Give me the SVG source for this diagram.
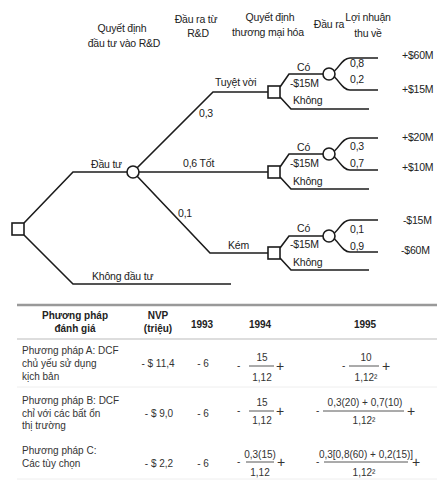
<svg xmlns="http://www.w3.org/2000/svg" width="443" height="481" viewBox="0 0 443 481">
<style>
.t{font-family:"Liberation Sans",Arial,sans-serif;font-size:10.5px;letter-spacing:-0.2px;fill:#222}
.h{font-family:"Liberation Sans",Arial,sans-serif;font-size:10.5px;letter-spacing:-0.2px;fill:#222;text-anchor:middle}
.tb{font-family:"Liberation Sans",Arial,sans-serif;font-size:10px;fill:#333}
.tm{font-family:"Liberation Sans",Arial,sans-serif;font-size:10px;fill:#333;text-anchor:middle}
.th{font-family:"Liberation Sans",Arial,sans-serif;font-size:10px;font-weight:bold;fill:#222;text-anchor:middle}
.pl{font-family:"Liberation Sans",Arial,sans-serif;font-size:14px;fill:#333}
.ln{fill:none;stroke:#1c1c1c;stroke-width:1.6}
.dec{fill:#fff;stroke:#1c1c1c;stroke-width:1.6}
.ch{fill:#fff;stroke:#1c1c1c;stroke-width:1.6}
.fr{stroke:#444;stroke-width:0.9}
</style>
<rect width="443" height="481" fill="#fff"/>

<g id="headers">
<text class="h" x="122" y="32">Quyết định</text>
<text class="h" x="124" y="47">đầu tư vào R&amp;D</text>
<text class="h" x="196" y="23">Đầu ra từ</text>
<text class="h" x="198" y="37">R&amp;D</text>
<text class="h" x="270" y="21">Quyết định</text>
<text class="h" x="268" y="36">thương mại hóa</text>
<text class="h" x="329" y="28">Đầu ra</text>
<text class="h" x="368" y="21">Lợi nhuận</text>
<text class="h" x="368" y="37">thu về</text>
</g>

<g id="connectors">
<path class="ln" d="M24,223 L73,172 L127,172"/>
<path class="ln" d="M24,235 L73,284 L231,284"/>
<path class="ln" d="M137.2,167.8 L213,92 L268,92"/>
<path class="ln" d="M139,172 L268,172"/>
<path class="ln" d="M137.2,176.2 L210,253 L268,253"/>
<path class="ln" d="M280,87 L289,74 L323,74"/>
<path class="ln" d="M280,97 L291,109 L369,109"/>
<path class="ln" d="M334.5,71 C340,66 343,58 350,58 L378,58"/>
<path class="ln" d="M334.5,77 C340,82 343,90 350,90 L378,90"/>
<path class="ln" d="M280,167 L289,154 L323,154"/>
<path class="ln" d="M280,177 L291,189 L369,189"/>
<path class="ln" d="M334.5,151 C340,146 343,138 350,138 L378,138"/>
<path class="ln" d="M334.5,157 C340,162 343,170 350,170 L378,170"/>
<path class="ln" d="M280,248 L289,236 L323,236"/>
<path class="ln" d="M280,258 L291,270 L369,270"/>
<path class="ln" d="M334.5,233 C340,228 343,220 350,220 L378,220"/>
<path class="ln" d="M334.5,239 C340,244 343,252 350,252 L378,252"/>
</g>

<g id="root-decision"><rect class="dec" x="12" y="223" width="12" height="12"/></g>
<g id="rd-chance"><circle class="ch" cx="133" cy="172" r="6"/></g>
<g id="dec-excellent"><rect class="dec" x="268" y="86" width="12" height="12"/></g>
<g id="dec-good"><rect class="dec" x="268" y="166" width="12" height="12"/></g>
<g id="dec-poor"><rect class="dec" x="268" y="247" width="12" height="12"/></g>
<g id="ch-excellent"><circle class="ch" cx="329" cy="74" r="6"/></g>
<g id="ch-good"><circle class="ch" cx="329" cy="154" r="6"/></g>
<g id="ch-poor"><circle class="ch" cx="329" cy="236" r="6"/></g>

<g id="tree-labels">
<text class="t" x="91" y="168">Đầu tư</text>
<text class="t" x="92" y="280">Không đầu tư</text>
<text class="t" x="199" y="117">0,3</text>
<text class="t" x="183" y="167">0,6 Tốt</text>
<text class="t" x="178" y="217">0,1</text>
<text class="t" x="215" y="86">Tuyệt vời</text>
<text class="t" x="228" y="249">Kém</text>

<text class="t" x="297" y="71">Có</text>
<text class="t" x="290" y="87">-$15M</text>
<text class="t" x="293" y="104">Không</text>
<text class="t" x="297" y="151">Có</text>
<text class="t" x="290" y="167">-$15M</text>
<text class="t" x="293" y="185">Không</text>
<text class="t" x="297" y="232">Có</text>
<text class="t" x="290" y="248">-$15M</text>
<text class="t" x="293" y="266">Không</text>

<text class="t" x="350" y="67">0,8</text>
<text class="t" x="350" y="83">0,2</text>
<text class="t" x="350" y="150">0,3</text>
<text class="t" x="350" y="167">0,7</text>
<text class="t" x="350" y="233">0,1</text>
<text class="t" x="350" y="250">0,9</text>

<text class="t" x="402" y="59">+$60M</text>
<text class="t" x="402" y="93">+$15M</text>
<text class="t" x="402" y="141">+$20M</text>
<text class="t" x="402" y="171">+$10M</text>
<text class="t" x="403" y="224">-$15M</text>
<text class="t" x="401" y="254">-$60M</text>
</g>

<g id="table">
<line x1="17" y1="305" x2="437" y2="305" stroke="#999" stroke-width="2.5"/>
<line x1="17" y1="339" x2="437" y2="339" stroke="#bbb" stroke-width="1"/>
<line x1="17" y1="387" x2="437" y2="387" stroke="#eee" stroke-width="1"/>
<line x1="17" y1="479" x2="437" y2="479" stroke="#eee" stroke-width="1"/>

<text class="th" x="75" y="319" font-size="10.5">Phương pháp</text>
<text class="th" x="75" y="332" font-size="10.5">đánh giá</text>
<text class="th" x="158" y="319">NVP</text>
<text class="th" x="158" y="332">(triệu)</text>
<text class="th" x="202" y="328">1993</text>
<text class="th" x="260" y="328">1994</text>
<text class="th" x="365" y="328">1995</text>

<text class="tb" x="22" y="354">Phương pháp A: DCF</text>
<text class="tb" x="22" y="367">chủ yếu sử dụng</text>
<text class="tb" x="22" y="380">kịch bản</text>
<text class="tm" x="158" y="367">- $ 11,4</text>
<text class="tm" x="203" y="367">- 6</text>
<text class="tb" x="237" y="369">-</text>
<text class="tm" x="262" y="361">15</text>
<line class="fr" x1="249" y1="366" x2="274" y2="366"/>
<text class="tm" x="262" y="381">1,12</text>
<text class="pl" x="276" y="371">+</text>
<text class="tb" x="342" y="369">-</text>
<text class="tm" x="366" y="361">10</text>
<line class="fr" x1="349" y1="366" x2="379" y2="366"/>
<text class="tm" x="366" y="381">1,12²</text>
<text class="pl" x="382" y="371">+</text>

<text class="tb" x="22" y="404">Phương pháp B: DCF</text>
<text class="tb" x="22" y="417">chỉ với các bất ổn</text>
<text class="tb" x="22" y="429">thị trường</text>
<text class="tm" x="159" y="417">- $ 9,0</text>
<text class="tm" x="203" y="417">- 6</text>
<text class="tb" x="237" y="414">-</text>
<text class="tm" x="262" y="406">15</text>
<line class="fr" x1="249" y1="411" x2="274" y2="411"/>
<text class="tm" x="262" y="424">1,12</text>
<text class="pl" x="276" y="416">+</text>
<text class="tb" x="316" y="414">-</text>
<text class="tm" x="365" y="406">0,3(20) + 0,7(10)</text>
<line class="fr" x1="323" y1="411" x2="404" y2="411"/>
<text class="tm" x="364" y="424">1,12²</text>
<text class="pl" x="407" y="416">+</text>

<text class="tb" x="22" y="454">Phương pháp C:</text>
<text class="tb" x="22" y="467">Các tùy chọn</text>
<text class="tm" x="159" y="467">- $ 2,2</text>
<text class="tm" x="203" y="467">- 6</text>
<text class="tb" x="237" y="465">-</text>
<text class="tm" x="260" y="458">0,3(15)</text>
<line class="fr" x1="246" y1="462" x2="274" y2="462"/>
<text class="tm" x="260" y="476">1,12</text>
<text class="pl" x="277" y="467">+</text>
<text class="tb" x="316" y="465">-</text>
<text class="tm" x="366" y="458" font-size="9">0,3[0,8(60) + 0,2(15)]</text>
<line class="fr" x1="324" y1="462" x2="408" y2="462"/>
<text class="tm" x="364" y="476">1,12²</text>
<text class="pl" x="412" y="467">+</text>
</g>
</svg>
